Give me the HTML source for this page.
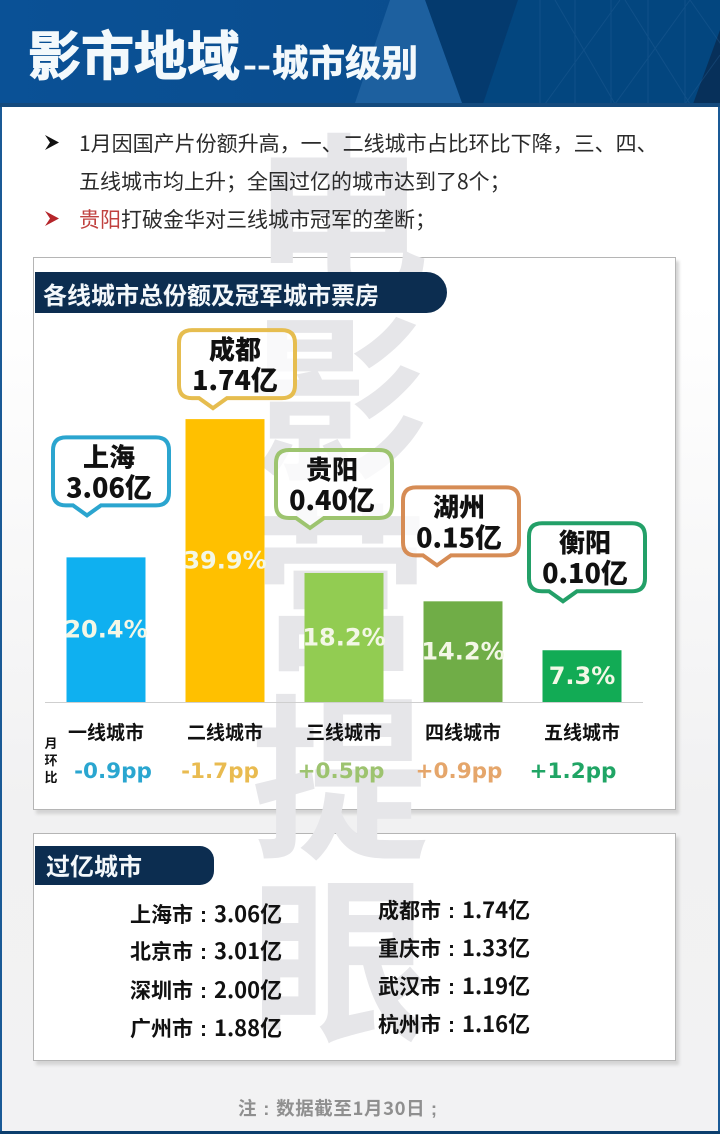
<!DOCTYPE html>
<html lang="zh">
<head>
<meta charset="utf-8">
<title>影市地域--城市级别</title>
<style>
html,body{margin:0;padding:0}
body{width:720px;height:1134px;overflow:hidden;position:relative;background:linear-gradient(#fff 0,#fff 300px,#f1f1f2 800px,#f2f2f3 1134px);font-family:"Liberation Sans","Noto Sans CJK SC",sans-serif}
.abs{position:absolute}
.panel{position:absolute;left:33px;width:641px;background:#fff;border:1px solid #b5b5b5;box-shadow:3px 4px 3px #d4d4d4}
.wm{position:absolute;left:250px;width:180px;text-align:center;font-size:178px;line-height:178px;font-weight:700;color:#e6e6e9;font-family:"Noto Sans CJK SC",sans-serif}
.line{position:absolute;left:79px;font-size:21px;line-height:30px;color:#2b2b2b;white-space:nowrap;font-family:"Noto Sans CJK SC",sans-serif;font-weight:400}
.arrow{position:absolute;left:44px}
.tag{position:absolute;left:35px;background:#0c2d50;color:#f4f8fb;font-weight:700;font-family:"Noto Sans CJK SC",sans-serif;white-space:nowrap}
.city{position:absolute;font-size:21px;line-height:28px;font-weight:700;color:#111;white-space:nowrap;font-family:"Noto Sans CJK SC",sans-serif}
.city b{display:inline-block;width:21px;text-align:center;font-family:"Liberation Sans",sans-serif;font-weight:700}
.city i{font-style:normal;font-size:22px}
</style>
</head>
<body>
<div class="panel" style="top:257px;height:551px"></div>
<div class="panel" style="top:833px;height:226px"></div>

<div class="wm" style="top:118px">电</div>
<div class="wm" style="top:300px">影</div>
<div class="wm" style="top:490px">营</div>
<div class="wm" style="top:680px">提</div>
<div class="wm" style="top:862px">眼</div>

<svg class="abs" style="left:0;top:0" width="720" height="107">
  <defs><linearGradient id="hg" x1="0" x2="1" y1="0" y2="0"><stop offset="0" stop-color="#0a5196"/><stop offset="1" stop-color="#0b4a88"/></linearGradient></defs>
  <rect width="720" height="107" fill="url(#hg)"/>
  <polygon points="518,0 720,0 720,104 483,104" fill="#03467f"/>
  <polygon points="425,0 518,0 483,104 462,104" fill="#043a6e"/>
  <polygon points="693,104 720,30 720,104" fill="#07305a"/>
  <polygon points="390,0 425,0 462,103 355,103" fill="#1d609f"/>
  <g stroke="#2a639b" stroke-width="1" fill="none" opacity=".35">
    <path d="M540,0V104M575,0V104M611,0V104M648,0V104M685,0V104M545,104L620,0M555,0L615,104M615,104L690,0M625,0L690,104M685,104L720,55M690,0L725,50"/>
  </g>
  <rect y="103" width="720" height="4" fill="#144a7d"/>
  <text x="28" y="75" font-size="53" font-weight="700" fill="#f3f9fc" stroke="#f3f9fc" stroke-width="1" font-family="Noto Sans CJK SC,sans-serif">影市地域</text>
  <text x="243" y="76" font-size="32" font-weight="700" fill="#f3f9fc" font-family="Liberation Sans,sans-serif" textLength="28" lengthAdjust="spacingAndGlyphs">--</text>
  <text x="272" y="76" font-size="36.5" font-weight="700" fill="#f3f9fc" stroke="#f3f9fc" stroke-width=".7" font-family="Noto Sans CJK SC,sans-serif">城市级别</text>
</svg>
<div class="abs" style="left:0;top:107px;width:2px;height:1027px;background:#1a5a96"></div>
<div class="abs" style="left:718px;top:107px;width:2px;height:1027px;background:#1a5a96"></div>
<div class="abs" style="left:0;top:1131px;width:720px;height:3px;background:#0c3e6d"></div>

<svg class="arrow" style="top:134px" width="16" height="18"><polygon points="1,1 15,8.5 1,16 6,8.5" fill="#111"/></svg>
<div class="line" style="top:128px">1月因国产片份额升高，一、二线城市占比环比下降，三、四、</div>
<div class="line" style="top:166px">五线城市均上升；全国过亿的城市达到了8个；</div>
<svg class="arrow" style="top:210px" width="16" height="18"><polygon points="1,1 15,8.5 1,16 6,8.5" fill="#b5252a"/></svg>
<div class="line" style="top:204px"><span style="color:#c0413f">贵阳</span>打破金华对三线城市冠军的垄断；</div>

<div class="tag" style="top:272px;width:404px;height:41px;padding-left:8px;line-height:44px;font-size:24px;border-radius:0 21px 21px 0">各线城市总份额及冠军城市票房</div>

<svg id="chart" class="abs" style="left:0;top:320px" width="720" height="490" viewBox="0 320 720 490"></svg>

<div class="tag" style="top:846px;width:168px;height:39px;padding-left:11px;line-height:38px;font-size:24px;border-radius:0 14px 14px 0">过亿城市</div>

<div class="city" style="left:130px;top:899px">上海市<b>:</b><i>3.06亿</i></div>
<div class="city" style="left:130px;top:936px">北京市<b>:</b><i>3.01亿</i></div>
<div class="city" style="left:130px;top:975px">深圳市<b>:</b><i>2.00亿</i></div>
<div class="city" style="left:130px;top:1013px">广州市<b>:</b><i>1.88亿</i></div>
<div class="city" style="left:378px;top:895px">成都市<b>:</b><i>1.74亿</i></div>
<div class="city" style="left:378px;top:933px">重庆市<b>:</b><i>1.33亿</i></div>
<div class="city" style="left:378px;top:971px">武汉市<b>:</b><i>1.19亿</i></div>
<div class="city" style="left:378px;top:1009px">杭州市<b>:</b><i>1.16亿</i></div>

<div class="abs" style="left:238px;top:1094px;font-size:18.5px;line-height:28px;font-weight:700;color:#8f8f8f;white-space:nowrap;letter-spacing:.6px;font-family:'Noto Sans CJK SC',sans-serif">注<span style="display:inline-block;width:19px;text-align:center;font-family:'Liberation Sans',sans-serif">:</span>数据截至1月30日<span style="display:inline-block;width:18px;text-align:center;font-family:'Liberation Sans',sans-serif">;</span></div>

<script>
var categories = ['一线城市', '二线城市', '三线城市', '四线城市', '五线城市'];
var shares = [20.4, 39.9, 18.2, 14.2, 7.3];
var shareLabels = ['20.4%', '39.9%', '18.2%', '14.2%', '7.3%'];
var champions = ['上海', '成都', '贵阳', '湖州', '衡阳'];
var championBox = ['3.06亿', '1.74亿', '0.40亿', '0.15亿', '0.10亿'];
var deltas = ['-0.9pp', '-1.7pp', '+0.5pp', '+0.9pp', '+1.2pp'];

var NS = 'http://www.w3.org/2000/svg';
var svg = document.getElementById('chart');
var barColors = ['#0fb0f0', '#ffc000', '#92cc52', '#70ad47', '#12ab55'];
var strokeColors = ['#2ba5cf', '#e6bd4f', '#9dc46f', '#d68c55', '#23a068'];
var deltaColors = ['#2aa6d0', '#e9bb50', '#9dc36f', '#e5a66b', '#20a565'];
var calloutShift = [-19, -12, -34, -26, -19];
var calloutLift = [42, 11, 45, 36, 49];
var deltaShift = [7, -5, -3, -4, -9];
var baseY = 702, firstX = 106, stepX = 119, barW = 79, pxPerPoint = 7.09;

function xPos(i) { return firstX + stepX * i; }
function yPos(v) { return baseY - v * pxPerPoint; }
function make(tag, attrs, txt) {
  var el = document.createElementNS(NS, tag);
  for (var k in attrs) el.setAttribute(k, attrs[k]);
  if (txt !== undefined) el.textContent = txt;
  svg.appendChild(el);
  return el;
}
var CJK = 'Noto Sans CJK SC,sans-serif';
var LAT = 'DejaVu Sans,sans-serif';

var axis = make('line', {x1: 45, x2: 643, y1: baseY + 0.5, y2: baseY + 0.5, stroke: '#cfcfcf', 'stroke-width': 1});



shares.forEach(function (v, i) {
  var cx = xPos(i), top = yPos(v);

  var bar = make('rect', {x: cx - barW / 2, y: top, width: barW, height: baseY - top, fill: barColors[i]});
  
  

  var pct = make('text', {x: cx, y: (top + baseY) / 2 + 8, 'text-anchor': 'middle', 'font-size': 24, 'font-weight': 700, fill: '#f3f7e6', 'font-family': LAT}, shareLabels[i]);
  
  

  var tipY = top - calloutLift[i];
  var tipX = cx + calloutShift[i];
  var l = tipX - 34, r = l + 116, b = tipY - 10, t = b - 68, rad = 13;
  var d = 'M' + (l + rad) + ',' + t + 'H' + (r - rad) + 'Q' + r + ',' + t + ' ' + r + ',' + (t + rad) +
    'V' + (b - rad) + 'Q' + r + ',' + b + ' ' + (r - rad) + ',' + b +
    'H' + (tipX + 14) + 'L' + tipX + ',' + tipY + 'L' + (tipX - 14) + ',' + b +
    'H' + (l + rad) + 'Q' + l + ',' + b + ' ' + l + ',' + (b - rad) +
    'V' + (t + rad) + 'Q' + l + ',' + t + ' ' + (l + rad) + ',' + t + 'Z';
  var box = make('path', {d: d, fill: 'rgba(255,255,255,.75)', stroke: strokeColors[i], 'stroke-width': 4});
  
  

  var mid = (l + r) / 2 - 2;
  var nm = make('text', {x: mid, y: t + 29, 'text-anchor': 'middle', 'font-size': 26, 'font-weight': 900, fill: '#111', 'font-family': CJK}, champions[i]);
  
  

  var val = make('text', {x: mid, y: t + 60, 'text-anchor': 'middle', 'font-size': 27, 'font-weight': 900, fill: '#111', 'font-family': CJK}, championBox[i]);
  
  

  var cat = make('text', {x: cx, y: 739, 'text-anchor': 'middle', 'font-size': 19, 'font-weight': 700, fill: '#111', 'font-family': CJK}, categories[i]);
  
  

  var del = make('text', {x: cx + deltaShift[i], y: 778, 'text-anchor': 'middle', 'font-size': 21.5, 'font-weight': 700, fill: deltaColors[i], 'font-family': LAT}, deltas[i]);
  
  
});

['月', '环', '比'].forEach(function (c, i) {
  var t = make('text', {x: 51, y: 748 + i * 17, 'text-anchor': 'middle', 'font-size': 13, 'font-weight': 700, fill: '#111', 'font-family': CJK}, c);
  
  
});
</script>
</body>
</html>
